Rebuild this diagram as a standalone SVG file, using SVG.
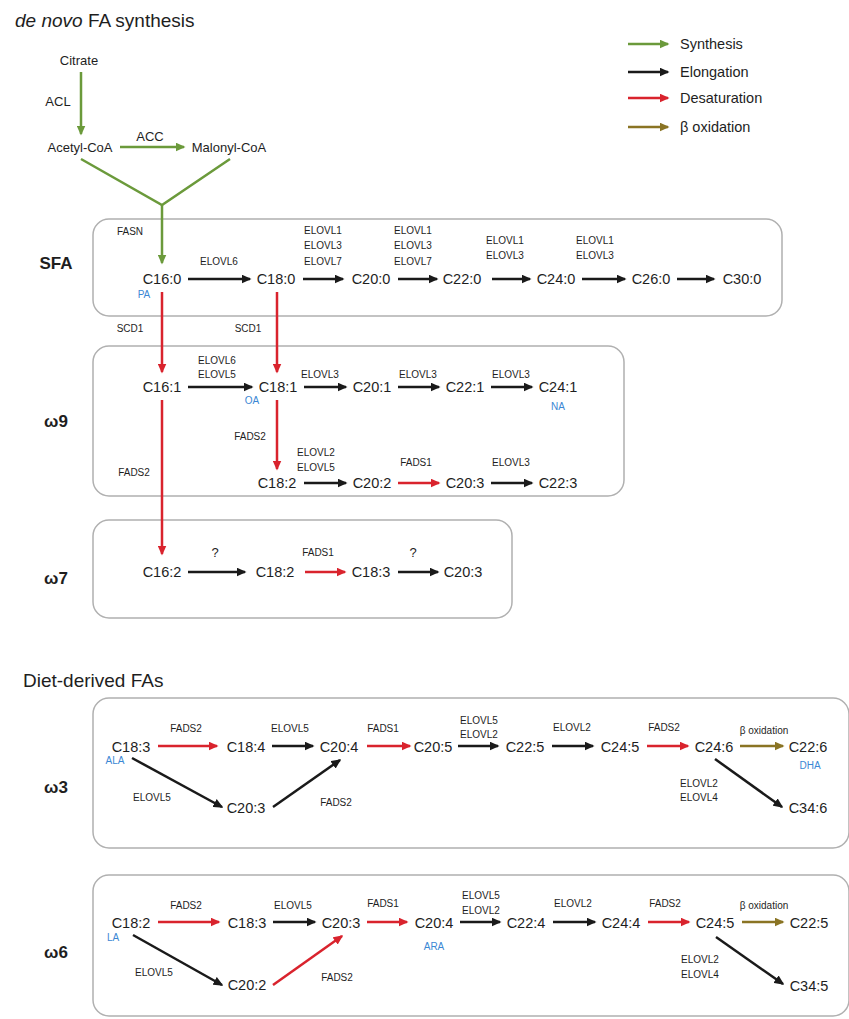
<svg xmlns="http://www.w3.org/2000/svg" width="849" height="1019" viewBox="0 0 849 1019">
<style>
text{font-family:"Liberation Sans",Arial,sans-serif;fill:#1e1e1e}
.n{font-size:14.5px;text-anchor:middle}
.e{font-size:10px;text-anchor:middle}
.q{font-size:13px;text-anchor:middle}
.bl{font-size:10px;text-anchor:middle;fill:#3b87d4}
.h{font-size:19px}
.grp{font-size:17px;font-weight:bold;text-anchor:middle}
.lg{font-size:14.5px}
.top{font-size:13px;text-anchor:middle}
.box{fill:none;stroke:#b0b0b0;stroke-width:1.5}
.k{stroke:#1a1a1a;stroke-width:2.5;fill:none;marker-end:url(#mk)}
.r{stroke:#d9232d;stroke-width:2.5;fill:none;marker-end:url(#mr)}
.g{stroke:#6b9a3b;stroke-width:2.5;fill:none;marker-end:url(#mg)}
.gl{stroke:#6b9a3b;stroke-width:2.5;fill:none}
.o{stroke:#8a7424;stroke-width:2.5;fill:none;marker-end:url(#mo)}
</style>
<defs>
<marker id="mk" markerUnits="userSpaceOnUse" markerWidth="10" markerHeight="9" refX="8.5" refY="4.5" orient="auto"><path d="M0,0 L10,4.5 L0,9 z" fill="#1a1a1a"/></marker>
<marker id="mr" markerUnits="userSpaceOnUse" markerWidth="10" markerHeight="9" refX="8.5" refY="4.5" orient="auto"><path d="M0,0 L10,4.5 L0,9 z" fill="#d9232d"/></marker>
<marker id="mg" markerUnits="userSpaceOnUse" markerWidth="10" markerHeight="9" refX="8.5" refY="4.5" orient="auto"><path d="M0,0 L10,4.5 L0,9 z" fill="#6b9a3b"/></marker>
<marker id="mo" markerUnits="userSpaceOnUse" markerWidth="10" markerHeight="9" refX="8.5" refY="4.5" orient="auto"><path d="M0,0 L10,4.5 L0,9 z" fill="#8a7424"/></marker>
</defs>
<rect width="849" height="1019" fill="#fff"/>

<!-- headings -->
<text class="h" x="15" y="27"><tspan font-style="italic">de novo</tspan> FA synthesis</text>
<text class="h" x="23" y="687">Diet-derived FAs</text>

<!-- legend -->
<g id="legend">
<line class="g" x1="628" y1="44" x2="668" y2="44"/>
<line class="k" x1="628" y1="72" x2="668" y2="72"/>
<line class="r" x1="628" y1="98" x2="668" y2="98"/>
<line class="o" x1="628" y1="127" x2="668" y2="127"/>
<text class="lg" x="680" y="49">Synthesis</text>
<text class="lg" x="680" y="77">Elongation</text>
<text class="lg" x="680" y="103">Desaturation</text>
<text class="lg" x="680" y="132">β oxidation</text>
</g>

<!-- boxes -->
<g id="boxes">
<rect id="box-sfa" class="box" x="93" y="219" width="689" height="97" rx="16"/>
<rect id="box-w9" class="box" x="93" y="346" width="531" height="150" rx="16"/>
<rect id="box-w7" class="box" x="93" y="520" width="419" height="98" rx="16"/>
<rect id="box-w3" class="box" x="93" y="698" width="756" height="150" rx="16"/>
<rect id="box-w6" class="box" x="93" y="875" width="756" height="141" rx="16"/>
<text class="grp" x="56" y="269">SFA</text>
<text class="grp" x="56" y="427">ω9</text>
<text class="grp" x="56" y="584">ω7</text>
<text class="grp" x="56" y="793">ω3</text>
<text class="grp" x="56" y="958">ω6</text>
</g>

<!-- connectors -->
<g id="connectors">
<line class="g" x1="81" y1="72" x2="81" y2="134"/>
<line class="g" x1="120" y1="147" x2="184" y2="147"/>
<polyline class="gl" points="81,159 162,205 230,159"/>
<line class="g" x1="162" y1="204" x2="162" y2="263"/>
<!-- SFA -->
<line class="k" x1="188" y1="279" x2="250" y2="279"/>
<line class="k" x1="303" y1="279" x2="343" y2="279"/>
<line class="k" x1="398" y1="279" x2="437" y2="279"/>
<line class="k" x1="492" y1="279" x2="530" y2="279"/>
<line class="k" x1="582" y1="279" x2="625" y2="279"/>
<line class="k" x1="677" y1="279" x2="714" y2="279"/>
<line class="r" x1="162" y1="292" x2="162" y2="372"/>
<line class="r" x1="277" y1="292" x2="277" y2="372"/>
<!-- w9 -->
<line class="k" x1="188" y1="387" x2="252" y2="387"/>
<line class="k" x1="304" y1="387" x2="346" y2="387"/>
<line class="k" x1="398" y1="387" x2="439" y2="387"/>
<line class="k" x1="491" y1="387" x2="532" y2="387"/>
<line class="r" x1="277" y1="400" x2="277" y2="469"/>
<line class="r" x1="162" y1="400" x2="162" y2="554"/>
<line class="k" x1="304" y1="483" x2="346" y2="483"/>
<line class="r" x1="398" y1="483" x2="439" y2="483"/>
<line class="k" x1="491" y1="483" x2="532" y2="483"/>
<!-- w7 -->
<line class="k" x1="188" y1="572" x2="245" y2="572"/>
<line class="r" x1="305" y1="572" x2="345" y2="572"/>
<line class="k" x1="398" y1="572" x2="438" y2="572"/>
<!-- w3 -->
<line class="r" x1="158" y1="746" x2="217" y2="746"/>
<line class="k" x1="272" y1="746" x2="313" y2="746"/>
<line class="r" x1="367" y1="746" x2="410" y2="746"/>
<line class="k" x1="458" y1="746" x2="498" y2="746"/>
<line class="k" x1="552" y1="746" x2="593" y2="746"/>
<line class="r" x1="647" y1="746" x2="688" y2="746"/>
<line class="o" x1="740" y1="746" x2="783" y2="746"/>
<line class="k" x1="132" y1="758" x2="222" y2="807"/>
<line class="k" x1="273" y1="807" x2="340" y2="760"/>
<line class="k" x1="715" y1="759" x2="782" y2="807"/>
<!-- w6 -->
<line class="r" x1="158" y1="922" x2="219" y2="922"/>
<line class="k" x1="273" y1="922" x2="315" y2="922"/>
<line class="r" x1="367" y1="922" x2="407" y2="922"/>
<line class="k" x1="460" y1="922" x2="500" y2="922"/>
<line class="k" x1="553" y1="922" x2="595" y2="922"/>
<line class="r" x1="648" y1="922" x2="689" y2="922"/>
<line class="o" x1="742" y1="922" x2="783" y2="922"/>
<line class="k" x1="133" y1="935" x2="222" y2="985"/>
<line class="r" x1="273" y1="985" x2="342" y2="936"/>
<line class="k" x1="716" y1="937" x2="783" y2="984"/>
</g>

<!-- enzyme labels -->
<g id="labels">
<text class="top" x="58" y="106" font-size="14">ACL</text>
<text class="top" x="150" y="141" font-size="14">ACC</text>
<text class="e" x="130" y="235">FASN</text>
<text class="e" x="219" y="265">ELOVL6</text>
<text class="e" x="323" y="234">ELOVL1</text><text class="e" x="323" y="249">ELOVL3</text><text class="e" x="323" y="265">ELOVL7</text>
<text class="e" x="413" y="234">ELOVL1</text><text class="e" x="413" y="249">ELOVL3</text><text class="e" x="413" y="265">ELOVL7</text>
<text class="e" x="505" y="244">ELOVL1</text><text class="e" x="505" y="259">ELOVL3</text>
<text class="e" x="595" y="244">ELOVL1</text><text class="e" x="595" y="259">ELOVL3</text>
<text class="e" x="130" y="332">SCD1</text>
<text class="e" x="248" y="332">SCD1</text>
<text class="e" x="217" y="364">ELOVL6</text><text class="e" x="217" y="378">ELOVL5</text>
<text class="e" x="320" y="378">ELOVL3</text>
<text class="e" x="418" y="378">ELOVL3</text>
<text class="e" x="511" y="378">ELOVL3</text>
<text class="e" x="250" y="440">FADS2</text>
<text class="e" x="134" y="476">FADS2</text>
<text class="e" x="316" y="456">ELOVL2</text><text class="e" x="316" y="471">ELOVL5</text>
<text class="e" x="416" y="466">FADS1</text>
<text class="e" x="511" y="466">ELOVL3</text>
<text class="q" x="215" y="557">?</text>
<text class="e" x="318" y="556">FADS1</text>
<text class="q" x="413" y="557">?</text>
<text class="e" x="186" y="732">FADS2</text>
<text class="e" x="290" y="732">ELOVL5</text>
<text class="e" x="383" y="732">FADS1</text>
<text class="e" x="479" y="724">ELOVL5</text><text class="e" x="479" y="738">ELOVL2</text>
<text class="e" x="572" y="731">ELOVL2</text>
<text class="e" x="664" y="731">FADS2</text>
<text class="e" x="764" y="734" font-size="11.5">β oxidation</text>
<text class="e" x="152" y="801">ELOVL5</text>
<text class="e" x="336" y="806">FADS2</text>
<text class="e" x="699" y="787">ELOVL2</text><text class="e" x="699" y="801">ELOVL4</text>
<text class="e" x="186" y="909">FADS2</text>
<text class="e" x="293" y="909">ELOVL5</text>
<text class="e" x="383" y="907">FADS1</text>
<text class="e" x="481" y="899">ELOVL5</text><text class="e" x="481" y="914">ELOVL2</text>
<text class="e" x="573" y="907">ELOVL2</text>
<text class="e" x="665" y="907">FADS2</text>
<text class="e" x="764" y="909" font-size="11.5">β oxidation</text>
<text class="e" x="154" y="976">ELOVL5</text>
<text class="e" x="337" y="981">FADS2</text>
<text class="e" x="700" y="963">ELOVL2</text><text class="e" x="700" y="978">ELOVL4</text>
</g>

<!-- nodes -->
<g id="n-citrate"><text class="top" x="79" y="65">Citrate</text></g>
<g id="n-acetylcoa"><text class="top" x="80" y="152">Acetyl-CoA</text></g>
<g id="n-malonylcoa"><text class="top" x="229" y="152">Malonyl-CoA</text></g>

<g id="n-c16-0"><text class="n" x="162" y="284">C16:0</text><text class="bl" x="144" y="298">PA</text></g>
<g id="n-c18-0"><text class="n" x="276" y="284">C18:0</text></g>
<g id="n-c20-0"><text class="n" x="371" y="284">C20:0</text></g>
<g id="n-c22-0"><text class="n" x="462" y="284">C22:0</text></g>
<g id="n-c24-0"><text class="n" x="556" y="284">C24:0</text></g>
<g id="n-c26-0"><text class="n" x="651" y="284">C26:0</text></g>
<g id="n-c30-0"><text class="n" x="742" y="284">C30:0</text></g>

<g id="n-c16-1"><text class="n" x="162" y="392">C16:1</text></g>
<g id="n-c18-1"><text class="n" x="278" y="392">C18:1</text><text class="bl" x="252" y="404">OA</text></g>
<g id="n-c20-1"><text class="n" x="372" y="392">C20:1</text></g>
<g id="n-c22-1"><text class="n" x="465" y="392">C22:1</text></g>
<g id="n-c24-1"><text class="n" x="558" y="392">C24:1</text><text class="bl" x="558" y="410">NA</text></g>
<g id="n-w9-c18-2"><text class="n" x="277" y="488">C18:2</text></g>
<g id="n-w9-c20-2"><text class="n" x="372" y="488">C20:2</text></g>
<g id="n-w9-c20-3"><text class="n" x="465" y="488">C20:3</text></g>
<g id="n-w9-c22-3"><text class="n" x="558" y="488">C22:3</text></g>

<g id="n-c16-2"><text class="n" x="162" y="577">C16:2</text></g>
<g id="n-w7-c18-2"><text class="n" x="275" y="577">C18:2</text></g>
<g id="n-w7-c18-3"><text class="n" x="371" y="577">C18:3</text></g>
<g id="n-w7-c20-3"><text class="n" x="463" y="577">C20:3</text></g>

<g id="n-w3-c18-3"><text class="n" x="131" y="752">C18:3</text><text class="bl" x="115" y="764">ALA</text></g>
<g id="n-w3-c18-4"><text class="n" x="246" y="752">C18:4</text></g>
<g id="n-w3-c20-4"><text class="n" x="339" y="752">C20:4</text></g>
<g id="n-w3-c20-5"><text class="n" x="433" y="752">C20:5</text></g>
<g id="n-w3-c22-5"><text class="n" x="525" y="752">C22:5</text></g>
<g id="n-w3-c24-5"><text class="n" x="620" y="752">C24:5</text></g>
<g id="n-w3-c24-6"><text class="n" x="714" y="752">C24:6</text></g>
<g id="n-w3-c22-6"><text class="n" x="808" y="752">C22:6</text><text class="bl" x="810" y="769">DHA</text></g>
<g id="n-w3-c20-3"><text class="n" x="246" y="813">C20:3</text></g>
<g id="n-w3-c34-6"><text class="n" x="808" y="813">C34:6</text></g>

<g id="n-w6-c18-2"><text class="n" x="131" y="928">C18:2</text><text class="bl" x="113" y="941">LA</text></g>
<g id="n-w6-c18-3"><text class="n" x="247" y="928">C18:3</text></g>
<g id="n-w6-c20-3"><text class="n" x="341" y="928">C20:3</text></g>
<g id="n-w6-c20-4"><text class="n" x="434" y="928">C20:4</text><text class="bl" x="434" y="950">ARA</text></g>
<g id="n-w6-c22-4"><text class="n" x="526" y="928">C22:4</text></g>
<g id="n-w6-c24-4"><text class="n" x="621" y="928">C24:4</text></g>
<g id="n-w6-c24-5"><text class="n" x="715" y="928">C24:5</text></g>
<g id="n-w6-c22-5"><text class="n" x="809" y="928">C22:5</text></g>
<g id="n-w6-c20-2"><text class="n" x="247" y="990">C20:2</text></g>
<g id="n-w6-c34-5"><text class="n" x="809" y="991">C34:5</text></g>
</svg>
